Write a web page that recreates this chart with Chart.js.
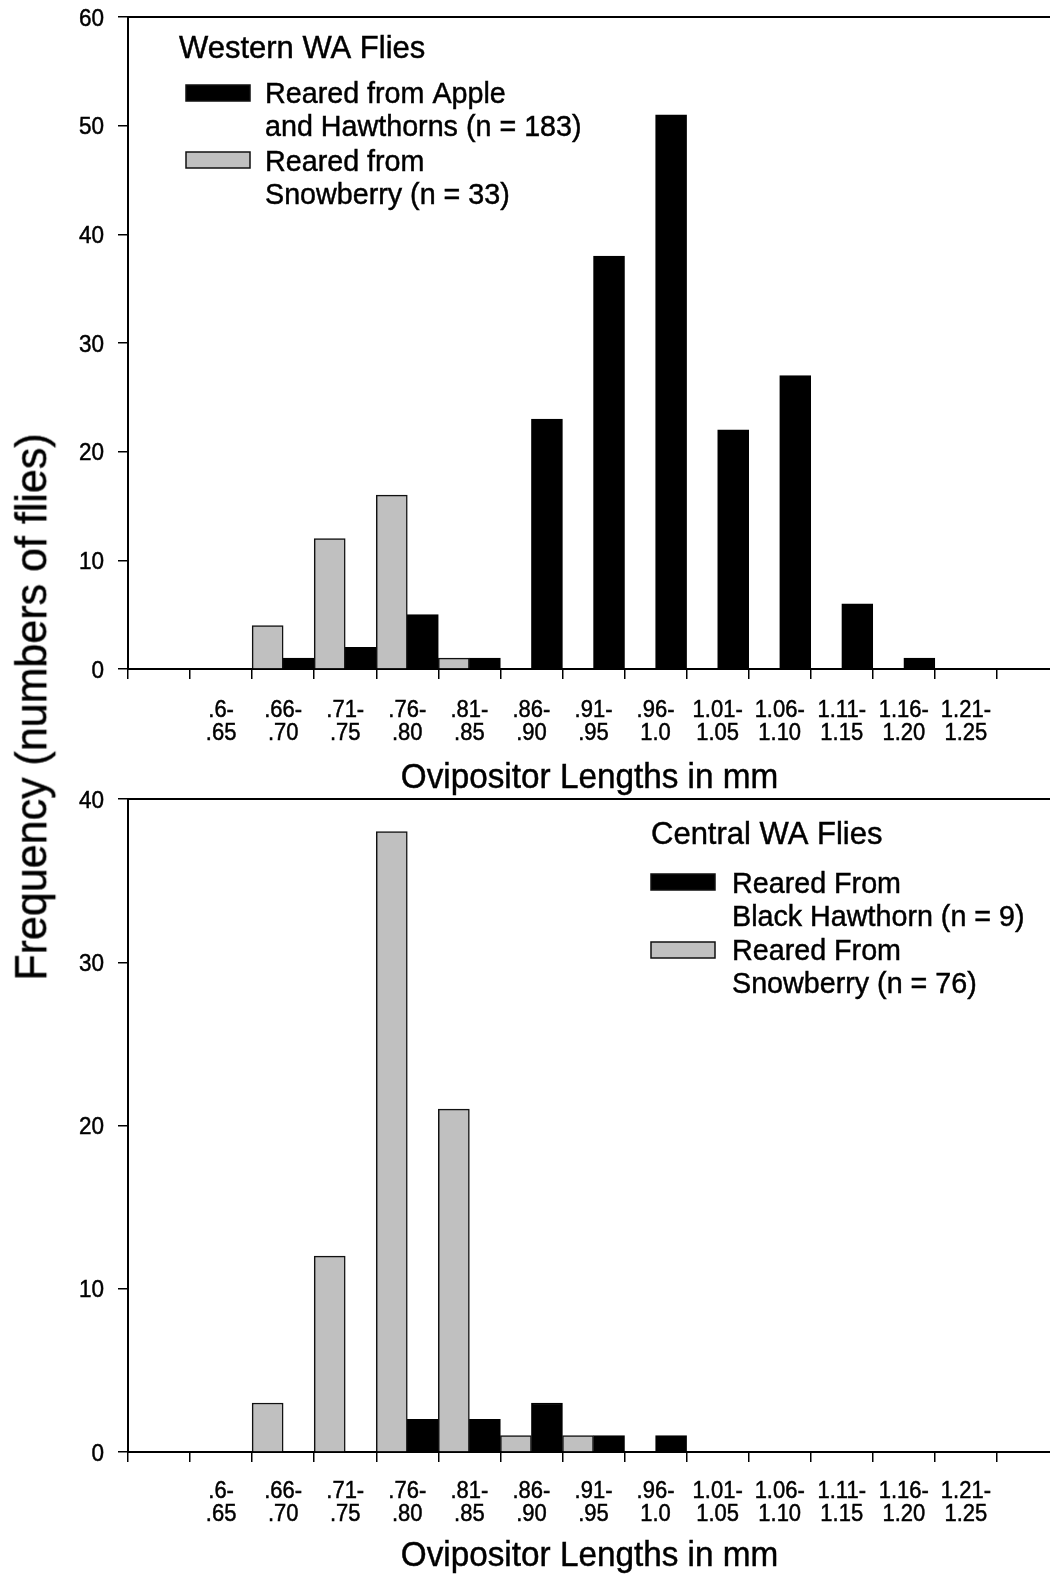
<!DOCTYPE html>
<html>
<head>
<meta charset="utf-8">
<script src="https://cdn.jsdelivr.net/npm/chart.js@4.4.1/dist/chart.umd.min.js"></script>
<style>
  html, body { margin: 0; padding: 0; background: #fff; }
  body { width: 1050px; height: 1574px; overflow: hidden; position: relative; }
  #c1 { position: absolute; left: 0; top: 0; }
  #c2 { position: absolute; left: 0; top: 770px; }
  #ytitle {
    position: absolute; left: 31px; top: 707px;
    transform: translate(-50%, -50%) rotate(-90deg) scaleY(1.05);
    font: 43px "Liberation Sans", Arial, sans-serif; color: #000; white-space: nowrap;
    -webkit-text-stroke: 0.4px #000;
  }
</style>
</head>
<body>
<canvas id="c1" width="1070" height="800"></canvas>
<canvas id="c2" width="1070" height="804"></canvas>
<div id="ytitle">Frequency (numbers of flies)</div>
<script>
// ---- Data ----
const categories = [
  ['.6-', '.65'], ['.66-', '.70'], ['.71-', '.75'], ['.76-', '.80'], ['.81-', '.85'],
  ['.86-', '.90'], ['.91-', '.95'], ['.96-', '1.0'], ['1.01-', '1.05'], ['1.06-', '1.10'],
  ['1.11-', '1.15'], ['1.16-', '1.20'], ['1.21-', '1.25']
];
const westernSnowberry      = [0, 4, 12, 16, 1, 0, 0, 0, 0, 0, 0, 0, 0];
const westernAppleHawthorn  = [0, 1, 2, 5, 1, 23, 38, 51, 22, 27, 6, 1, 0];
const centralSnowberry      = [0, 3, 12, 38, 21, 1, 1, 0, 0, 0, 0, 0, 0];
const centralBlackHawthorn  = [0, 0, 0, 2, 2, 3, 1, 1, 0, 0, 0, 0, 0];
const yMaxTop = 60, yMaxBottom = 40, yStep = 10;
const xTitle = 'Ovipositor Lengths in mm';

// ---- Helpers ----
const FONT = '"Liberation Sans", Arial, Helvetica, sans-serif';
Chart.defaults.font.family = FONT;
Chart.defaults.color = '#000';
const GRAY = '#c0c0c0', BLACK = '#000000';

const pad = arr => [null, ...arr, null];
const labels = ['', ...categories, ''];

function sText(ctx, text, x, y, sy) {
  ctx.save();
  ctx.translate(x, y);
  ctx.scale(1, sy);
  ctx.fillText(text, 0, 0);
  ctx.lineWidth = 0.45;
  ctx.strokeStyle = '#000';
  ctx.strokeText(text, 0, 0);
  ctx.restore();
}

const decor = {
  id: 'decor',
  afterDraw(chart, args, opts) {
    const { ctx, chartArea: a } = chart;
    const xs = chart.scales.x, ys = chart.scales.y;
    ctx.save();
    // top frame line
    ctx.strokeStyle = '#000';
    ctx.lineWidth = 2;
    ctx.beginPath();
    ctx.moveTo(a.left, a.top);
    ctx.lineTo(a.right, a.top);
    ctx.stroke();

    ctx.fillStyle = '#000';
    ctx.textBaseline = 'middle';

    // x tick labels (from the category scale)
    ctx.font = '22px ' + FONT;
    ctx.textAlign = 'center';
    const xl = xs.getLabels();
    xs.ticks.forEach((t, i) => {
      const lab = xl[t.value];
      if (!lab) return;
      const px = xs.getPixelForTick(i);
      const lines = Array.isArray(lab) ? lab : [lab];
      lines.forEach((s, k) => sText(ctx, s, px, a.bottom + opts.xTickDy + k * 22.5, 1.06));
    });

    // y tick labels (from the linear scale)
    ctx.font = '22.5px ' + FONT;
    ctx.textAlign = 'right';
    ys.ticks.forEach(t => {
      sText(ctx, String(t.value), a.left - 24, ys.getPixelForValue(t.value) + 2, 1.08);
    });

    // x title
    ctx.font = '33.3px ' + FONT;
    ctx.textAlign = 'center';
    sText(ctx, opts.xTitle, (a.left + a.right) / 2 - 4, a.bottom + opts.xTitleDy, 1.03);

    // legend
    const L = opts.legend;
    ctx.textAlign = 'left';
    ctx.font = '31px ' + FONT;
    sText(ctx, L.title, a.left + L.titleDx, a.top + L.titleDy, 1.02);
    ctx.font = '28.7px ' + FONT;
    L.items.forEach(it => {
      const ds = chart.data.datasets[it.dataset];
      ctx.fillStyle = ds.backgroundColor;
      ctx.fillRect(a.left + L.swatchDx, a.top + it.swatchDy, 64, 16);
      ctx.strokeStyle = '#111';
      ctx.lineWidth = 1.5;
      ctx.strokeRect(a.left + L.swatchDx, a.top + it.swatchDy, 64, 16);
      ctx.fillStyle = '#000';
      it.lines.forEach((t, i) => sText(ctx, t, a.left + L.textDx, a.top + it.textDy + i * 33, 1.05));
    });
    ctx.restore();
  }
};

function makeChart(id, grayData, blackData, grayLabel, blackLabel, yMax, padTop, xHeight, tickDy, titleDy, legend) {
  return new Chart(document.getElementById(id), {
    type: 'bar',
    data: {
      labels: labels,
      datasets: [
        { label: grayLabel, data: pad(grayData), backgroundColor: GRAY, borderColor: '#111',
          borderWidth: 1.5, categoryPercentage: 1, barPercentage: 1 },
        { label: blackLabel, data: pad(blackData), backgroundColor: BLACK, borderColor: '#000',
          borderWidth: 1.5, categoryPercentage: 1, barPercentage: 1 }
      ]
    },
    options: {
      responsive: false,
      animation: false,
      layout: { padding: { top: padTop, right: 11, left: 0, bottom: 0 } },
      plugins: {
        legend: { display: false },
        tooltip: { enabled: false },
        decor: { xTitle: xTitle, xTitleDy: titleDy, xTickDy: tickDy, legend: legend }
      },
      scales: {
        x: {
          type: 'category',
          offset: true,
          grid: { offset: true, drawOnChartArea: false, drawTicks: true, tickLength: 10, color: '#000', lineWidth: 1.5 },
          border: { display: true, color: '#000', width: 2 },
          ticks: { display: false, autoSkip: false, maxRotation: 0, minRotation: 0 },
          afterFit(s) { s.height = xHeight; }
        },
        y: {
          min: 0, max: yMax,
          ticks: { display: false, stepSize: yStep },
          grid: { drawOnChartArea: false, drawTicks: true, tickLength: 10, color: '#000', lineWidth: 1.5 },
          border: { display: true, color: '#000', width: 2 },
          afterFit(s) { s.width = 128; }
        }
      }
    },
    plugins: [decor]
  });
}

makeChart('c1', westernSnowberry, westernAppleHawthorn,
  'Reared from Snowberry (n = 33)', 'Reared from Apple and Hawthorns (n = 183)',
  yMaxTop, 17, 131, 42, 110,
  { title: 'Western WA Flies', titleDx: 51, titleDy: 32, swatchDx: 58, textDx: 137,
    items: [
      { dataset: 1, swatchDy: 68, textDy: 78, lines: ['Reared from Apple', 'and Hawthorns (n = 183)'] },
      { dataset: 0, swatchDy: 135, textDy: 146, lines: ['Reared from', 'Snowberry (n = 33)'] }
    ] });

makeChart('c2', centralSnowberry, centralBlackHawthorn,
  'Reared From Snowberry (n = 76)', 'Reared From Black Hawthorn (n = 9)',
  yMaxBottom, 29, 122, 40, 105,
  { title: 'Central WA Flies', titleDx: 523, titleDy: 36, swatchDx: 523, textDx: 604,
    items: [
      { dataset: 1, swatchDy: 75, textDy: 86, lines: ['Reared From', 'Black Hawthorn (n = 9)'] },
      { dataset: 0, swatchDy: 143, textDy: 153, lines: ['Reared From', 'Snowberry (n = 76)'] }
    ] });
</script>
</body>
</html>
